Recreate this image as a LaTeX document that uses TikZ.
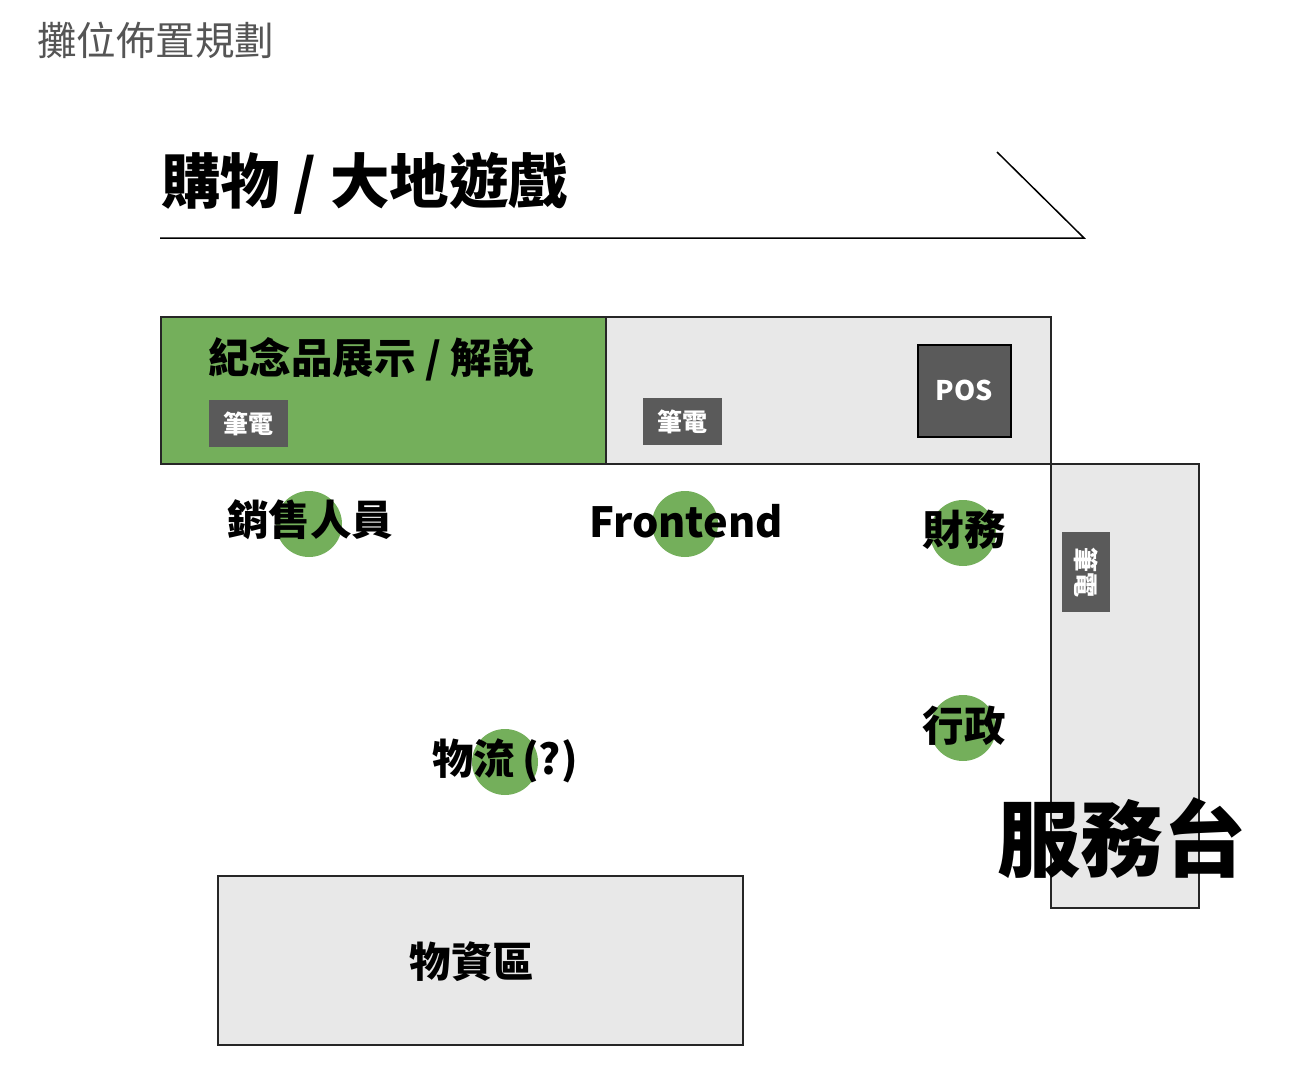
\documentclass[tikz,border=0pt]{standalone}
\usepackage{fontspec}
\setmainfont{Noto Sans CJK TC}
\definecolor{grn}{HTML}{74AF5B}
\definecolor{lgray}{HTML}{E8E8E8}
\definecolor{dgray}{HTML}{5A5A5A}
\definecolor{ttl}{HTML}{555555}
\begin{document}
\begin{tikzpicture}[x=1pt,y=-1pt,
  zone/.style={draw=black!85,line width=1.6pt,fill=lgray},
  badge/.style={fill=dgray,text=white,font=\fontsize{25}{25}\selectfont\bfseries,inner sep=0pt,minimum width=79pt,minimum height=47pt},
  dot/.style={circle,fill=grn,minimum size=66pt,inner sep=0pt},
  lbl/.style={font=\fontsize{41.5}{41.5}\selectfont\bfseries,inner sep=0pt}]
\useasboundingbox (0,0) rectangle (1308,1070);
% title
\node[anchor=west,text=ttl,font=\fontsize{39.5}{39.5}\selectfont,inner sep=0pt] (title) at (37,40) {攤位佈置規劃};
% heading
\node[anchor=west,font=\fontsize{59.5}{59.5}\selectfont\bfseries,inner sep=0pt] (head) at (161,183) {購物 / 大地遊戲};
\coordinate (l0) at (160,238);
\coordinate (l1) at (1084,238);
\coordinate (l2) at (997,152);
\draw[line width=1.5pt] (l0) -- (l1) -- (l2);
% zones
\node[zone,fill=grn,anchor=north west,minimum width=445pt,minimum height=147pt,inner sep=0pt] (green) at (160,316) {};
\node[zone,anchor=north west,minimum width=445pt,minimum height=147pt,inner sep=0pt] (grayz) at (605,316) {};
\node[zone,anchor=north west,minimum width=148pt,minimum height=444pt,inner sep=0pt] (desk) at (1050,463) {};
\node[zone,anchor=north west,minimum width=525pt,minimum height=169pt,inner sep=0pt] (supply) at (217,875) {};
\node[lbl] (supplyt) at (472,962) {物資區};
% green zone text
\node[anchor=west,font=\fontsize{41.5}{41.5}\selectfont\bfseries,inner sep=0pt] (souv) at (208,359) {紀念品展示 / 解說};
\node[badge,anchor=north west] (nb1) at (209,400) {筆電};
\node[badge,anchor=north west] (nb2) at (643,398) {筆電};
\node[draw=black,line width=1.5pt,fill=dgray,text=white,font=\fontsize{27}{27}\selectfont\bfseries,minimum width=93pt,minimum height=92pt,inner sep=0pt,anchor=north west] (pos) at (917,344) {POS};
\node[badge,anchor=north west,minimum width=48pt,minimum height=80pt] (nb3) at (1062,532) {};
\node[rotate=-90,text=white,font=\fontsize{25}{25}\selectfont\bfseries,inner sep=0pt] (nb3t) at (nb3.center) {筆電};
% people
\node[dot] (d1) at (309,524) {};
\node[lbl] (t1) at (310,520) {銷售人員};
\node[dot] (d2) at (685,524) {};
\node[lbl] (t2) at (686,521) {Frontend};
\node[dot] (d3) at (963,533) {};
\node[lbl] (t3) at (964,530) {財務};
\node[dot] (d4) at (963,728) {};
\node[lbl] (t4) at (964,726) {行政};
\node[dot] (d5) at (505,762) {};
\node[lbl] (t5) at (505,761) {物流\,(?)};
\node[font=\fontsize{83}{83}\selectfont\bfseries,inner sep=0pt] (svc) at (1122,838) {服務台};
\end{tikzpicture}
\end{document}
